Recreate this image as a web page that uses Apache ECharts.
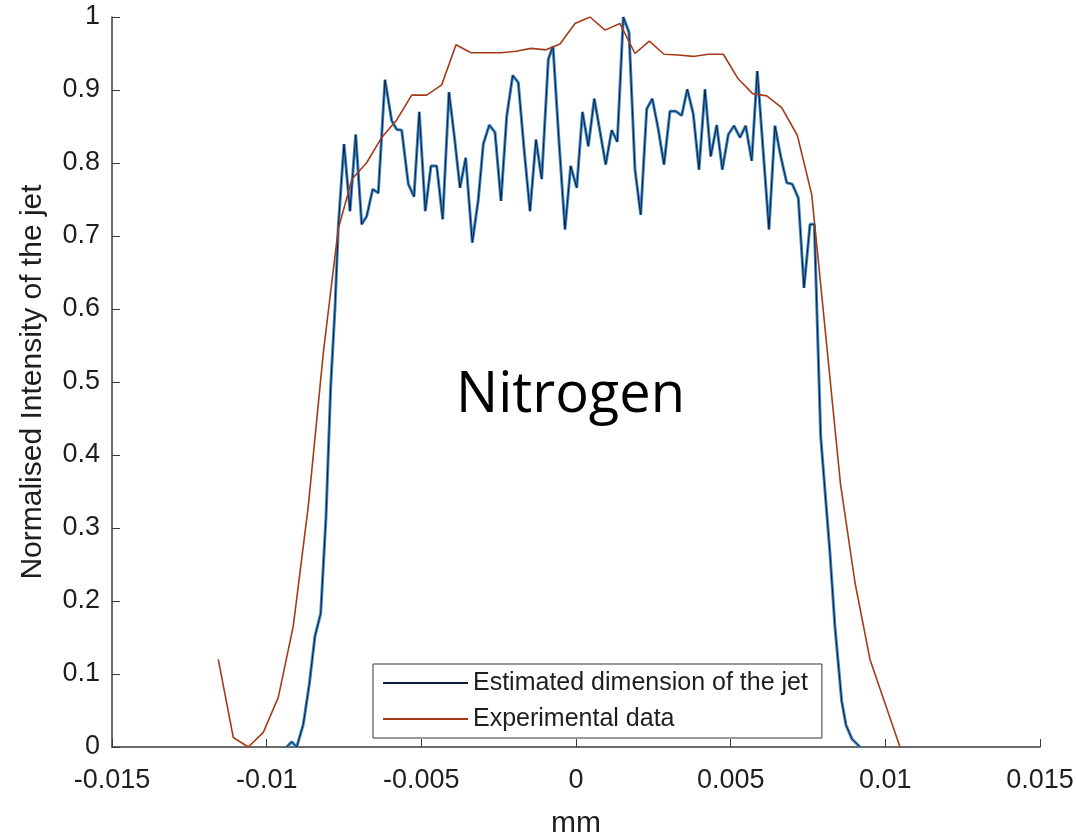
<!DOCTYPE html>
<html>
<head>
<meta charset="utf-8">
<title>Nitrogen jet</title>
<script src="https://cdn.jsdelivr.net/npm/echarts@6/dist/echarts.min.js"></script>
<style>
  html, body { margin: 0; padding: 0; background: #fff; }
  #chart { width: 1077px; height: 835px; }
</style>
</head>
<body>
<div id="chart"></div>
<script>
// Estimated dimension of the jet (blue)
const estX = [
  -0.009353, -0.009191, -0.009029, -0.008816, -0.008622, -0.008438, -0.008253, -0.008082, -0.007930, -0.007791,
  -0.007684, -0.007500, -0.007306, -0.007122, -0.006928, -0.006766, -0.006572, -0.006391, -0.006175, -0.005958,
  -0.005796, -0.005635, -0.005421, -0.005237, -0.005066, -0.004872, -0.004688, -0.004503, -0.004309, -0.004106,
  -0.003921, -0.003750, -0.003566, -0.003352, -0.003158, -0.002997, -0.002803, -0.002619, -0.002425, -0.002240,
  -0.002046, -0.001865, -0.001681, -0.001487, -0.001293, -0.001109, -0.000895, -0.000744, -0.000550, -0.000356,
  -0.000171, 0.000023, 0.000210, 0.000398, 0.000592, 0.000776, 0.000960, 0.001154, 0.001335, 0.001529,
  0.001713, 0.001907, 0.002092, 0.002286, 0.002467, 0.002661, 0.002845, 0.003039, 0.003223, 0.003417,
  0.003598, 0.003792, 0.003976, 0.004170, 0.004355, 0.004549, 0.004730, 0.004924, 0.005108, 0.005302,
  0.005486, 0.005680, 0.005861, 0.006045, 0.006239, 0.006433, 0.006618, 0.006812, 0.006993, 0.007187,
  0.007371, 0.007565, 0.007704, 0.007911, 0.008211, 0.008373, 0.008589, 0.008728, 0.008922, 0.009181
];
const estY = [
  0, 0.007, 0, 0.031, 0.086, 0.152, 0.183, 0.315, 0.494, 0.601,
  0.713, 0.826, 0.734, 0.839, 0.716, 0.727, 0.764, 0.759, 0.914, 0.858,
  0.846, 0.845, 0.771, 0.754, 0.870, 0.734, 0.796, 0.796, 0.723, 0.897,
  0.832, 0.766, 0.807, 0.691, 0.750, 0.826, 0.852, 0.842, 0.748, 0.864,
  0.920, 0.910, 0.820, 0.734, 0.832, 0.778, 0.942, 0.960, 0.830, 0.709,
  0.796, 0.766, 0.870, 0.823, 0.888, 0.843, 0.798, 0.845, 0.829, 1.000,
  0.979, 0.791, 0.729, 0.874, 0.888, 0.846, 0.798, 0.871, 0.871, 0.865,
  0.901, 0.867, 0.791, 0.901, 0.809, 0.852, 0.791, 0.839, 0.851, 0.835,
  0.851, 0.803, 0.926, 0.820, 0.709, 0.851, 0.809, 0.773, 0.771, 0.752,
  0.629, 0.716, 0.716, 0.425, 0.265, 0.164, 0.063, 0.030, 0.011, 0
];

// Experimental data (red-brown)
const expX = [
  -0.011564, -0.011079, -0.010594, -0.010109, -0.009624, -0.009139, -0.008654, -0.008169, -0.007684, -0.007241,
  -0.006773, -0.006281, -0.005796, -0.005311, -0.004827, -0.004342, -0.003879, -0.003394, -0.002909, -0.002425,
  -0.001940, -0.001455, -0.000970, -0.000517, -0.000032, 0.000453, 0.000938, 0.001422, 0.001907, 0.002370,
  0.002845, 0.003307, 0.003792, 0.004277, 0.004762, 0.005247, 0.005712, 0.006165, 0.006650, 0.007154,
  0.007620, 0.008082, 0.008551, 0.009020, 0.009504, 0.009989, 0.010474
];
const expY = [
  0.120, 0.013, 0, 0.020, 0.068, 0.166, 0.33, 0.54, 0.71, 0.778,
  0.80, 0.835, 0.859, 0.893, 0.893, 0.907, 0.962, 0.951, 0.951, 0.951,
  0.953, 0.957, 0.955, 0.963, 0.991, 1.0, 0.982, 0.991, 0.950, 0.967,
  0.949, 0.948, 0.946, 0.949, 0.949, 0.915, 0.895, 0.892, 0.876, 0.838,
  0.757, 0.56, 0.36, 0.225, 0.12, 0.06, 0
];

const seriesNames = ['Estimated dimension of the jet', 'Experimental data'];
const xTicks = { min: -0.015, max: 0.015, step: 0.005 };
const yTicks = { min: 0, max: 1, step: 0.1 };

const zip = (xs, ys) => xs.map((x, i) => [x, ys[i]]);
const estData = zip(estX, estY);
const expData = zip(expX, expY);

const chart = echarts.init(document.getElementById('chart'));
const axisColor = '#3a3a3a';
const textColor = '#1e1e1e';
const font = 'Liberation Sans, Arial, sans-serif';

const option = {
  animation: false,
  grid: { left: 112, right: 37, top: 17, bottom: 88, outerBoundsMode: 'none', containLabel: false },
  legend: {
    data: seriesNames,
    orient: 'vertical',
    left: 373,
    top: 664,
    padding: [6, 14, 6, 9],
    itemWidth: 85,
    itemHeight: 14,
    itemGap: 10,
    itemStyle: { opacity: 0 },
    borderColor: '#333',
    borderWidth: 1,
    backgroundColor: '#fff',
    textStyle: { fontFamily: font, fontSize: 25, color: textColor, lineHeight: 26 }
  },
  xAxis: {
    type: 'value',
    min: xTicks.min,
    max: xTicks.max,
    interval: xTicks.step,
    name: 'mm',
    nameLocation: 'middle',
    nameGap: 62,
    nameTextStyle: { fontFamily: font, fontSize: 30, color: textColor },
    axisLine: { onZero: false, lineStyle: { color: axisColor, width: 1.5 } },
    axisTick: { inside: true, length: 8, lineStyle: { color: axisColor } },
    axisLabel: {
      fontFamily: font, fontSize: 27, color: textColor, margin: 20,
      formatter: v => String(parseFloat(v.toFixed(3)))
    },
    splitLine: { show: false }
  },
  yAxis: {
    type: 'value',
    min: yTicks.min,
    max: yTicks.max,
    interval: yTicks.step,
    name: 'Normalised Intensity of the jet',
    nameLocation: 'middle',
    nameGap: 64,
    nameTextStyle: { fontFamily: font, fontSize: 30, color: textColor },
    axisLine: { show: true, onZero: false, lineStyle: { color: axisColor, width: 1.5 } },
    axisTick: { show: true, inside: true, length: 8, lineStyle: { color: axisColor } },
    axisLabel: {
      fontFamily: font, fontSize: 27, color: textColor, margin: 12,
      formatter: v => String(parseFloat(v.toFixed(1)))
    },
    splitLine: { show: false }
  },
  graphic: [{
    type: 'text',
    left: 456,
    top: 368,
    style: { text: 'Nitrogen', font: '56px "Open Sans", "Noto Sans", sans-serif', fill: '#000' }
  }],
  series: [
    {
      name: 'halo',
      type: 'line',
      data: estData,
      symbol: 'none',
      lineStyle: { color: '#3f8cc8', width: 3 },
      z: 2
    },
    {
      name: seriesNames[0],
      type: 'line',
      data: estData,
      symbol: 'none',
      color: '#0c1c40',
      lineStyle: { color: '#0c1c40', width: 1 },
      z: 3
    },
    {
      name: seriesNames[1],
      type: 'line',
      data: expData,
      symbol: 'none',
      color: '#a43c1a',
      lineStyle: { color: '#a43c1a', width: 1.6 },
      z: 4
    }
  ]
};

chart.setOption(option);
window.addEventListener('resize', () => chart.resize());
</script>
</body>
</html>
